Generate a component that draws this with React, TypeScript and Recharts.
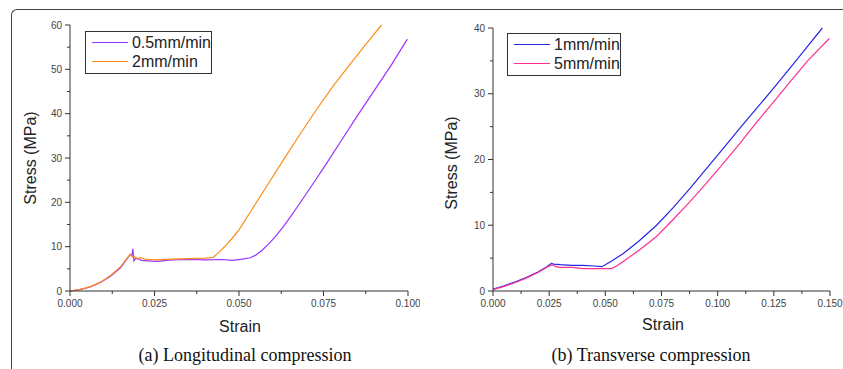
import React from "react";
import { LineChart, Line, XAxis, YAxis, Legend } from "recharts";

// (a) longitudinal compression
const slowStrain = [0, 0.003, 0.006, 0.009, 0.012, 0.015, 0.0178, 0.0183, 0.0186, 0.0189, 0.0195, 0.02, 0.0205, 0.021, 0.023, 0.026, 0.03, 0.035, 0.04, 0.045, 0.048, 0.051, 0.0533, 0.055, 0.057, 0.059, 0.061, 0.063, 0.065, 0.068, 0.072, 0.076, 0.08, 0.085, 0.09, 0.095, 0.0998];
const slowStress = [0, 0.3, 0.9, 1.9, 3.3, 5.3, 8.2, 8.0, 9.5, 6.8, 7.4, 7.2, 7.3, 6.9, 6.8, 6.7, 7.0, 7.1, 7.0, 7.1, 6.9, 7.2, 7.5, 8.1, 9.3, 10.8, 12.5, 14.4, 16.5, 19.8, 24.3, 28.9, 33.6, 39.5, 45.2, 50.9, 56.8];
const fastStrain = [0, 0.003, 0.006, 0.009, 0.012, 0.015, 0.0178, 0.0185, 0.019, 0.02, 0.021, 0.022, 0.025, 0.03, 0.035, 0.04, 0.0424, 0.044, 0.046, 0.048, 0.05, 0.054, 0.058, 0.063, 0.068, 0.073, 0.078, 0.083, 0.0878, 0.0922];
const fastStress = [0, 0.35, 1.0, 2.0, 3.5, 5.5, 8.3, 7.6, 7.8, 7.3, 7.5, 7.2, 7.0, 7.2, 7.3, 7.4, 7.6, 8.7, 10.2, 11.9, 13.8, 18.6, 23.4, 29.4, 35.3, 41.0, 46.4, 51.3, 55.9, 60.0];

// (b) transverse compression
const oneMmStrain = [0, 0.005, 0.01, 0.015, 0.02, 0.024, 0.026, 0.027, 0.03, 0.035, 0.04, 0.045, 0.0484, 0.05, 0.053, 0.058, 0.065, 0.0728, 0.08, 0.0877, 0.095, 0.1025, 0.11, 0.1174, 0.125, 0.1322, 0.14, 0.1466];
const oneMmStress = [0.3, 0.8, 1.4, 2.1, 2.9, 3.7, 4.2, 4.1, 4.0, 3.9, 3.9, 3.8, 3.7, 4.0, 4.6, 5.7, 7.6, 10.0, 12.6, 15.6, 18.6, 21.7, 24.8, 27.8, 30.9, 33.9, 37.2, 40.0];
const fiveMmStrain = [0, 0.005, 0.01, 0.015, 0.02, 0.024, 0.0265, 0.028, 0.03, 0.035, 0.04, 0.045, 0.05, 0.0528, 0.055, 0.058, 0.065, 0.0728, 0.08, 0.0877, 0.095, 0.1025, 0.11, 0.1174, 0.125, 0.1322, 0.14, 0.1497];
const fiveMmStress = [0.2, 0.7, 1.3, 2.0, 2.8, 3.6, 4.0, 3.7, 3.6, 3.6, 3.4, 3.4, 3.4, 3.4, 3.8, 4.5, 6.2, 8.3, 10.8, 13.6, 16.4, 19.4, 22.5, 25.7, 28.8, 31.8, 35.0, 38.4];

const leftXMajor = [0, 0.025, 0.05, 0.075, 0.1];
const leftXTicks = [0, 0.0125, 0.025, 0.0375, 0.05, 0.0625, 0.075, 0.0875, 0.1];
const leftYMajor = [0, 10, 20, 30, 40, 50, 60];
const leftYTicks = [0, 5, 10, 15, 20, 25, 30, 35, 40, 45, 50, 55, 60];
const rightXMajor = [0, 0.025, 0.05, 0.075, 0.1, 0.125, 0.15];
const rightXTicks = [0, 0.0125, 0.025, 0.0375, 0.05, 0.0625, 0.075, 0.0875, 0.1, 0.1125, 0.125, 0.1375, 0.15];
const rightYMajor = [0, 10, 20, 30, 40];
const rightYTicks = [0, 5, 10, 15, 20, 25, 30, 35, 40];

const toRows = (xs: number[], ys: number[]) => xs.map((x, i) => ({ x, y: ys[i] }));

const AXIS = "#333";
const TICK_FONT = { fontFamily: "Arial, 'Liberation Sans', sans-serif", fontSize: 10, fill: "#444" };

const isIn = (list: number[], v: number) => list.some((m) => Math.abs(m - v) < 1e-9);

function makeXTick(majors: number[]) {
  return (props: any) => {
    const { x, y, payload } = props;
    const major = isIn(majors, payload.value);
    const axisY = y - 9;
    return (
      <g>
        <line x1={x} x2={x} y1={axisY} y2={axisY + (major ? 5 : 3)} stroke={AXIS} />
        {major && (
          <text x={x} y={axisY + 9} dy="0.71em" textAnchor="middle" {...TICK_FONT}>
            {payload.value.toFixed(3)}
          </text>
        )}
      </g>
    );
  };
}

function makeYTick(majors: number[]) {
  return (props: any) => {
    const { x, y, payload } = props;
    const major = isIn(majors, payload.value);
    const axisX = x + 8;
    return (
      <g>
        <line x1={axisX} x2={axisX - (major ? 5 : 3)} y1={y} y2={y} stroke={AXIS} />
        {major && (
          <text x={axisX - 8} y={y} dy="0.355em" textAnchor="end" {...TICK_FONT}>
            {payload.value}
          </text>
        )}
      </g>
    );
  };
}

function LegendBox(props: any) {
  const { payload, width } = props;
  return (
    <div
      style={{
        border: "1.5px solid #333",
        width,
        padding: "1px 0 2px 0",
        background: "#fff",
        fontFamily: "Arial, 'Liberation Sans', sans-serif",
        fontSize: 16,
        color: "#222",
      }}
    >
      {(payload || []).map((p: any) => (
        <div key={p.value} style={{ display: "flex", alignItems: "center", height: 19 }}>
          <span style={{ display: "inline-block", width: 36, height: 0, borderTop: `1.3px solid ${p.color}`, margin: "0 4px 0 6px" }} />
          <span>{p.value}</span>
        </div>
      ))}
    </div>
  );
}

const titleStyle: React.CSSProperties = {
  position: "absolute",
  fontFamily: "Arial, 'Liberation Sans', sans-serif",
  fontSize: 16,
  color: "#222",
  whiteSpace: "nowrap",
};

const captionStyle: React.CSSProperties = {
  position: "absolute",
  fontFamily: "'Liberation Serif', 'Times New Roman', serif",
  fontSize: 18,
  color: "#111",
  whiteSpace: "nowrap",
  transform: "translate(-50%, -50%)",
};

export default function App() {
  return (
    <div style={{ position: "absolute", left: 0, top: 0, width: 843, height: 369, background: "#fff", overflow: "hidden" }}>
      <div
        style={{
          position: "absolute",
          left: 11,
          top: 9,
          width: 860,
          height: 400,
          borderTop: "1.5px solid #444",
          borderLeft: "1.5px solid #444",
          borderTopLeftRadius: 6,
        }}
      />

      <div style={{ position: "absolute", left: 0, top: 0 }}>
        <LineChart width={420} height={320} margin={{ top: 25, right: 12, bottom: 4, left: 0 }}>
          <XAxis
            type="number"
            dataKey="x"
            domain={[0, 0.1]}
            ticks={leftXTicks}
            interval={0}
            height={25}
            tickSize={5}
            tickMargin={4}
            tickLine={false}
            stroke={AXIS}
            tick={makeXTick(leftXMajor)}
            allowDataOverflow
          />
          <YAxis
            type="number"
            dataKey="y"
            domain={[0, 60]}
            ticks={leftYTicks}
            interval={0}
            width={70}
            tickSize={5}
            tickMargin={3}
            tickLine={false}
            stroke={AXIS}
            tick={makeYTick(leftYMajor)}
          />
          <Legend
            layout="vertical"
            align="center"
            verticalAlign="middle"
            wrapperStyle={{ left: 85, top: 31, width: 128 }}
            content={(p: any) => <LegendBox {...p} width={125} />}
          />
          <Line data={toRows(slowStrain, slowStress)} dataKey="y" name="0.5mm/min" type="linear" stroke="#9933ff" strokeWidth={1.2} dot={false} isAnimationActive={false} />
          <Line data={toRows(fastStrain, fastStress)} dataKey="y" name="2mm/min" type="linear" stroke="#ff8c1a" strokeWidth={1.2} dot={false} isAnimationActive={false} />
        </LineChart>
      </div>

      <div style={{ position: "absolute", left: 420, top: 0 }}>
        <LineChart width={423} height={320} margin={{ top: 28, right: 13, bottom: 4, left: 0 }}>
          <XAxis
            type="number"
            dataKey="x"
            domain={[0, 0.15]}
            ticks={rightXTicks}
            interval={0}
            height={25}
            tickSize={5}
            tickMargin={4}
            tickLine={false}
            stroke={AXIS}
            tick={makeXTick(rightXMajor)}
            allowDataOverflow
          />
          <YAxis
            type="number"
            dataKey="y"
            domain={[0, 40]}
            ticks={rightYTicks}
            interval={0}
            width={73}
            tickSize={5}
            tickMargin={3}
            tickLine={false}
            stroke={AXIS}
            tick={makeYTick(rightYMajor)}
          />
          <Legend
            layout="vertical"
            align="center"
            verticalAlign="middle"
            wrapperStyle={{ left: 87, top: 33, width: 115 }}
            content={(p: any) => <LegendBox {...p} width={112} />}
          />
          <Line data={toRows(oneMmStrain, oneMmStress)} dataKey="y" name="1mm/min" type="linear" stroke="#2626e6" strokeWidth={1.2} dot={false} isAnimationActive={false} />
          <Line data={toRows(fiveMmStrain, fiveMmStress)} dataKey="y" name="5mm/min" type="linear" stroke="#ff2f8f" strokeWidth={1.2} dot={false} isAnimationActive={false} />
        </LineChart>
      </div>

      <div style={{ ...titleStyle, left: 31, top: 158, transform: "translate(-50%, -50%) rotate(-90deg)" }}>Stress (MPa)</div>
      <div style={{ ...titleStyle, left: 452, top: 163, transform: "translate(-50%, -50%) rotate(-90deg)" }}>Stress (MPa)</div>
      <div style={{ ...titleStyle, left: 240, top: 327, transform: "translate(-50%, -50%)" }}>Strain</div>
      <div style={{ ...titleStyle, left: 663, top: 325, transform: "translate(-50%, -50%)" }}>Strain</div>
      <div style={{ ...captionStyle, left: 245, top: 355 }}>(a) Longitudinal compression</div>
      <div style={{ ...captionStyle, left: 651, top: 355 }}>(b) Transverse compression</div>
    </div>
  );
}
